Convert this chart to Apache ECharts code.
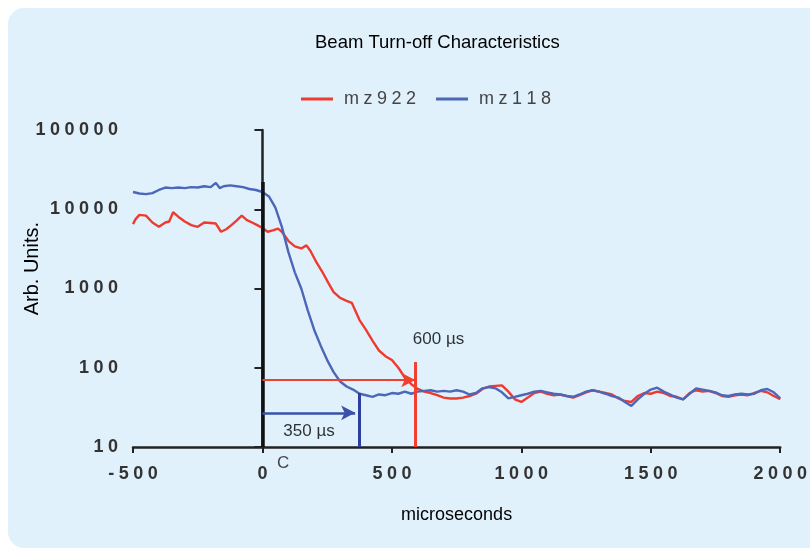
<!DOCTYPE html>
<html>
<head>
<meta charset="utf-8">
<script src="https://cdn.jsdelivr.net/npm/echarts@6/dist/echarts.min.js"></script>
<style>
  html, body { margin: 0; padding: 0; background: #fff; }
  #main { width: 810px; height: 550px; }
</style>
</head>
<body>
<div id="main"></div>
<script>
// mz922 (red)
var redX = [-500, -490, -475, -450, -425, -400, -375, -360, -345, -320, -300, -275, -250, -225, -200, -180, -160, -140, -120, -100, -80, -60, -40, -20,
  0, 20, 40, 60, 75, 100, 125, 150, 170, 185, 210, 230, 255, 275, 300, 325, 345, 375, 400, 425, 450, 475, 500, 525, 550, 575, 600,
  625, 650, 675, 700, 725, 750, 775, 800, 825, 850, 875, 900, 925, 950, 975, 1000, 1025, 1050, 1075, 1100, 1125, 1150, 1175, 1200,
  1225, 1250, 1275, 1300, 1325, 1350, 1375, 1400, 1425, 1450, 1475, 1500, 1525, 1550, 1575, 1600, 1625, 1650, 1675, 1700, 1725,
  1750, 1775, 1800, 1825, 1850, 1875, 1900, 1925, 1950, 1975, 2000];
var redY = [6500, 7500, 8500, 8300, 6800, 6000, 6800, 7000, 9200, 7800, 7000, 6300, 6000, 6800, 6700, 6600, 5200, 5600, 6300, 7200, 8300, 7300, 6800, 6300,
  5800, 5200, 5400, 5700, 5200, 4000, 3400, 3200, 3500, 3000, 2100, 1650, 1170, 900, 760, 700, 660, 400, 300, 220, 165, 140, 125, 100, 75, 62, 54,
  50, 48, 45, 42, 41, 41, 42, 44, 47, 54, 58, 59, 60, 50, 40, 37, 42, 48, 50, 47, 45, 46, 44, 42,
  45, 49, 52, 50, 48, 46, 41, 38, 37, 44, 48, 47, 50, 48, 44, 43, 40, 48, 52, 50, 51,
  48, 44, 43, 45, 46, 45, 48, 51, 49, 44, 40];

// mz118 (blue)
var blueX = [-500, -475, -450, -425, -400, -375, -350, -325, -300, -275, -250, -225, -200, -180, -165, -150, -125, -100, -75, -50, -25,
  0, 25, 50, 75, 100, 125, 150, 175, 200, 225, 250, 275, 300, 325, 350, 375, 400, 425, 450, 475, 500, 525, 550, 575, 600,
  625, 650, 675, 700, 725, 750, 775, 800, 825, 850, 875, 900, 925, 950, 975, 1000, 1025, 1050, 1075, 1100, 1125, 1150, 1175, 1200,
  1225, 1250, 1275, 1300, 1325, 1350, 1375, 1400, 1425, 1450, 1475, 1500, 1525, 1550, 1575, 1600, 1625, 1650, 1675, 1700, 1725,
  1750, 1775, 1800, 1825, 1850, 1875, 1900, 1925, 1950, 1975, 2000];
var blueY = [16500, 15800, 15500, 16000, 17500, 18800, 18500, 18800, 18500, 19000, 18800, 19500, 19000, 21500, 18500, 19500, 20000, 19500, 19000, 18000, 17500,
  16500, 14500, 10500, 6000, 2900, 1600, 1000, 530, 300, 190, 125, 88, 67, 58, 53, 47, 45, 43, 46, 45, 48, 47, 50, 47, 50,
  51, 52, 50, 51, 50, 52, 50, 46, 48, 55, 57, 55, 49, 41, 43, 45, 47, 50, 51, 49, 47, 46, 44, 43,
  46, 50, 52, 50, 47, 44, 42, 37, 33, 40, 47, 53, 56, 50, 46, 42, 40, 47, 55, 53, 51,
  49, 45, 44, 46, 47, 46, 47, 52, 54, 49, 41];

// annotation values
var beamOffX = 0, beamOffTop = 22000;
var redCutX = 590, redCutTop = 118, redArrowY = 70;
var blueCutX = 372, blueCutTop = 48, blueArrowY = 27, blueArrowEnd = 358;
var notes = [
  { name: '600 µs', x: 680, y: 230 },
  { name: '350 µs', x: 180, y: 15.9 }
];
var yTicks = [10, 100, 1000, 10000, 100000];

function spaced(v) {
  return String(v).split('').join('\u2005');
}

function toPairs(xs, ys) {
  return xs.map(function (x, i) { return [x, ys[i]]; });
}

var myChart = echarts.init(document.getElementById('main'));
var tickFont = { color: '#333', fontFamily: 'Liberation Sans', fontWeight: 'bold', fontSize: 18 };
var textFont = 'Liberation Sans';

var option = {
  animation: false,
  backgroundColor: '#fff',
  graphic: [
    {
      type: 'rect', z: -10, silent: true,
      shape: { x: 8, y: 8, width: 830, height: 540, r: 16 },
      style: { fill: '#e0f1fb' }
    },
    {
      type: 'text', left: 22, top: 222, rotation: Math.PI / 2,
      style: { text: 'Arb. Units.', fill: '#000', font: '20px "Liberation Sans"' }
    },
    {
      type: 'text', left: 277, top: 455,
      style: { text: 'C', fill: '#444', font: '17px "Liberation Sans"' }
    }
  ],
  title: {
    text: 'Beam Turn-off Characteristics',
    left: 310,
    top: 28,
    textStyle: { color: '#000', fontFamily: textFont, fontWeight: 'normal', fontSize: 18.5 }
  },
  legend: {
    data: ['mz922', 'mz118'],
    left: 296,
    top: 85,
    icon: 'rect',
    itemWidth: 32,
    itemHeight: 3,
    itemGap: 20,
    formatter: spaced,
    textStyle: { color: '#444', fontFamily: 'Liberation Sans', fontSize: 18, padding: [0, 0, 0, 6] }
  },
  grid: { left: 133, right: 26, top: 130, bottom: 103 },
  xAxis: {
    type: 'value',
    min: -500,
    max: 2000,
    interval: 500,
    name: 'microseconds',
    nameLocation: 'middle',
    nameGap: 59,
    nameTextStyle: { color: '#000', fontFamily: textFont, fontSize: 18 },
    axisLine: { lineStyle: { color: '#222', width: 2.5 } },
    axisTick: { length: 6, lineStyle: { color: '#222', width: 2 } },
    axisLabel: Object.assign({ margin: 18, formatter: spaced }, tickFont),
    splitLine: { show: false }
  },
  yAxis: {
    type: 'log',
    logBase: 10,
    min: yTicks[0],
    max: yTicks[yTicks.length - 1],
    axisLine: { show: true, lineStyle: { color: '#222', width: 2.5 } },
    axisTick: { show: true, length: 8, lineStyle: { color: '#222', width: 2 } },
    axisLabel: Object.assign({ margin: 15, formatter: spaced }, tickFont),
    splitLine: { show: false }
  },
  series: [
    {
      name: 'mz922',
      type: 'line',
      data: toPairs(redX, redY),
      showSymbol: false,
      symbol: 'none',
      color: '#ee3b30',
      lineStyle: { width: 2.4 },
      z: 3
    },
    {
      name: 'mz118',
      type: 'line',
      data: toPairs(blueX, blueY),
      showSymbol: false,
      symbol: 'none',
      color: '#4c66b8',
      lineStyle: { width: 2.4 },
      z: 4
    },
    {
      name: 'markers',
      type: 'line',
      data: [],
      z: 5,
      markLine: {
        silent: true,
        animation: false,
        label: { show: false },
        data: [
          [
            { coord: [beamOffX, yTicks[0]], symbol: 'none', lineStyle: { color: '#111', width: 3.5, type: 'solid' } },
            { coord: [beamOffX, beamOffTop], symbol: 'none' }
          ],
          [
            { coord: [beamOffX, redArrowY], symbol: 'none', lineStyle: { color: '#f0402f', width: 2, type: 'solid' } },
            { coord: [redCutX, redArrowY], symbol: 'arrow', symbolSize: [11, 14] }
          ],
          [
            { coord: [redCutX, yTicks[0]], symbol: 'none', lineStyle: { color: '#f0402f', width: 3, type: 'solid' } },
            { coord: [redCutX, redCutTop], symbol: 'none' }
          ],
          [
            { coord: [beamOffX, blueArrowY], symbol: 'none', lineStyle: { color: '#3a50aa', width: 2.5, type: 'solid' } },
            { coord: [blueArrowEnd, blueArrowY], symbol: 'arrow', symbolSize: [11, 14] }
          ],
          [
            { coord: [blueCutX, yTicks[0]], symbol: 'none', lineStyle: { color: '#2c3f9e', width: 3, type: 'solid' } },
            { coord: [blueCutX, blueCutTop], symbol: 'none' }
          ]
        ]
      }
    },
    {
      name: 'notes',
      type: 'scatter',
      silent: true,
      symbolSize: 1,
      itemStyle: { color: 'rgba(0,0,0,0)' },
      data: notes.map(function (n) { return { name: n.name, value: [n.x, n.y] }; }),
      label: {
        show: true,
        position: 'inside',
        formatter: function (p) { return p.name; },
        color: '#000',
        fontFamily: textFont,
        fontSize: 17
      },
      z: 6
    }
  ]
};
myChart.setOption(option, true);
</script>
</body>
</html>
